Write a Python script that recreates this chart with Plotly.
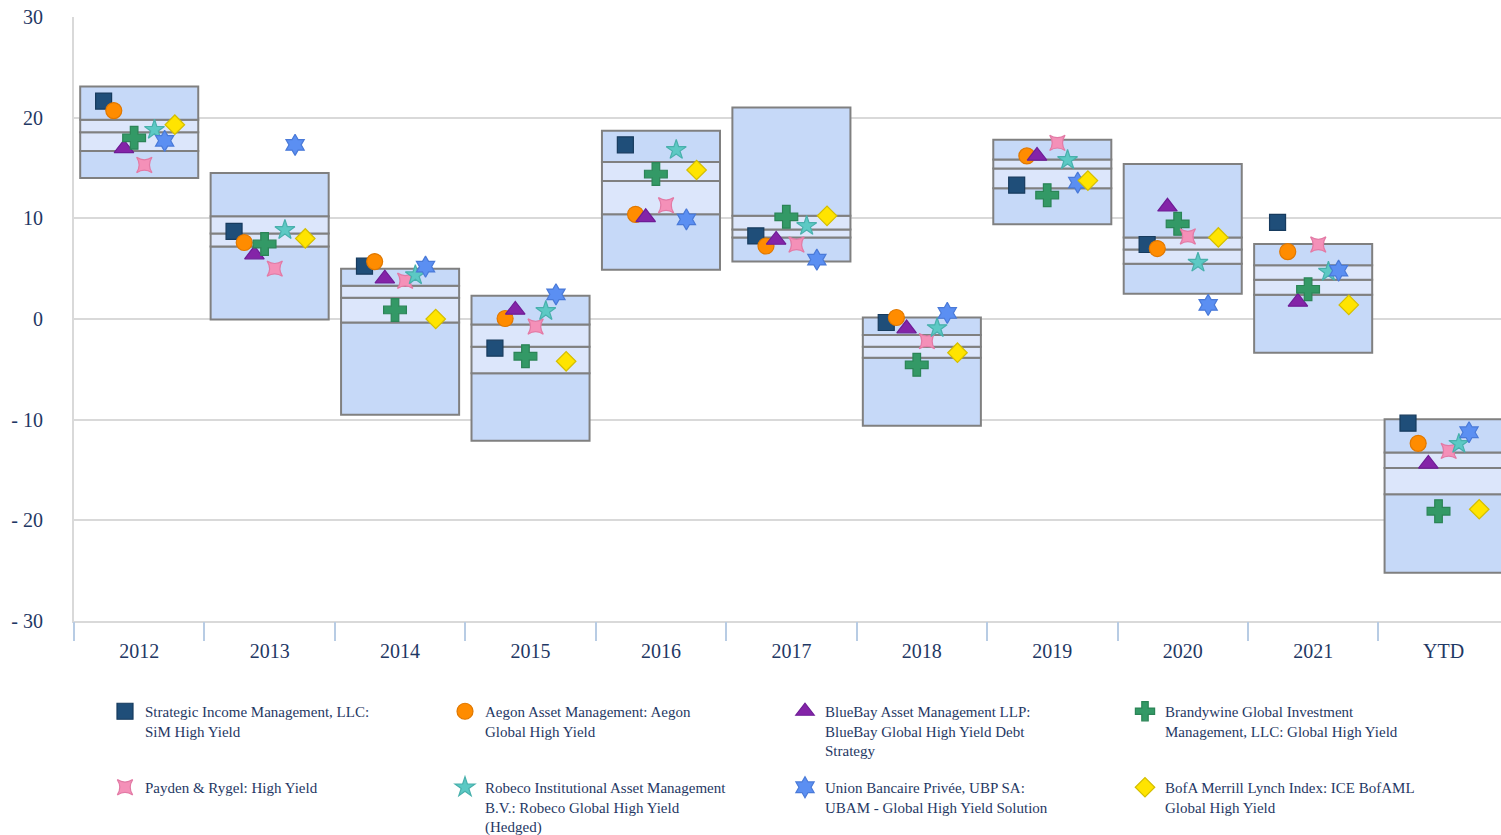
import plotly.graph_objects as go

years = ["2012", "2013", "2014", "2015", "2016", "2017", "2018", "2019", "2020", "2021", "YTD"]

box_max = [23.1, 14.5, 5.0, 2.3, 18.7, 21.0, 0.15, 17.8, 15.4, 7.45, -9.95]
box_q75 = [19.8, 10.2, 3.3, -0.55, 15.6, 10.25, -1.6, 15.85, 8.1, 5.35, -13.25]
box_med = [18.55, 8.5, 2.1, -2.75, 13.7, 8.9, -2.75, 14.95, 6.9, 3.9, -14.8]
box_q25 = [16.7, 7.2, -0.35, -5.4, 10.4, 8.1, -3.85, 13.0, 5.5, 2.4, -17.4]
box_min = [14.0, -0.05, -9.5, -12.1, 4.9, 5.7, -10.6, 9.4, 2.5, -3.35, -25.2]

sim = [21.65, 8.7, 5.25, -2.9, 17.3, 8.25, -0.35, 13.3, 7.4, 9.6, -10.35]
aegon = [20.7, 7.6, 5.7, 0.05, 10.4, 7.25, 0.15, 16.2, 7.0, 6.7, -12.35]
bluebay = [16.95, 6.4, 4.0, 0.9, 10.1, 7.85, -0.95, 16.2, 11.15, 1.7, -14.4]
brandywine = [18.0, 7.45, 0.9, -3.7, 14.4, 10.15, -4.55, 12.3, 9.45, 2.95, -19.1]
payden = [15.3, 5.0, 3.8, -0.75, 11.3, 7.4, -2.2, 17.5, 8.2, 7.4, -13.1]
robeco = [18.8, 8.85, 4.35, 0.8, 16.8, 9.25, -0.9, 15.8, 5.6, 4.7, -12.4]
ubam = [17.7, 17.3, 5.2, 2.45, 9.9, 5.9, 0.6, 13.55, 1.4, 4.8, -11.25]
bofa = [19.3, 8.0, 0.0, -4.2, 14.8, 10.25, -3.35, 13.75, 8.1, 1.4, -18.9]

series_names = [
    "Strategic Income Management, LLC:<br>SiM High Yield",
    "Aegon Asset Management: Aegon<br>Global High Yield",
    "BlueBay Asset Management LLP:<br>BlueBay Global High Yield Debt<br>Strategy",
    "Brandywine Global Investment<br>Management, LLC: Global High Yield",
    "Payden &amp; Rygel: High Yield",
    "Robeco Institutional Asset Management<br>B.V.: Robeco Global High Yield<br>(Hedged)",
    "Union Bancaire Privée, UBP SA:<br>UBAM - Global High Yield Solution",
    "BofA Merrill Lynch Index: ICE BofAML<br>Global High Yield",
]
series_values = [sim, aegon, bluebay, brandywine, payden, robeco, ubam, bofa]
symbols = ["square", "circle", "triangle-up", "cross", "star-square", "star", "hexagram", "diamond"]
sizes = [16, 16, 17, 19, 14, 15, 16, 15]
fills = ["#1F4E79", "#FF8C00", "#8424A8", "#339966", "#F490B8", "#5CC9C4", "#5B8FF2", "#FFE400"]
edges = ["#173B5E", "#E07800", "#6E1C96", "#2B8456", "#E27AA5", "#48B0AC", "#4A7AD8", "#D4BE00"]

OUTER = "#C6D9F8"
INNER = "#DCE6FB"
EDGE = "#808080"
TXT = "#1F3864"
FONT = "Liberation Serif"

idx = list(range(len(years)))
fig = go.Figure()

segments = [
    (box_min, box_q25, OUTER),
    (box_q25, box_med, INNER),
    (box_med, box_q75, INNER),
    (box_q75, box_max, OUTER),
]
for lo, hi, col in segments:
    fig.add_trace(go.Bar(
        x=idx, y=[h - l for l, h in zip(lo, hi)], base=lo, width=0.905,
        marker=dict(color=col, line=dict(color=EDGE, width=2)),
        showlegend=False, hoverinfo="skip",
    ))

step = 0.078
for k, (name, vals) in enumerate(zip(series_names, series_values)):
    off = (k - 3.5) * step
    fig.add_trace(go.Scatter(
        x=[i + off for i in idx], y=vals, mode="markers", name=name,
        marker=dict(symbol=symbols[k], size=sizes[k], color=fills[k],
                    line=dict(color=edges[k], width=1.2)),
        legend="legend" if k < 4 else "legend2",
    ))

xr = [-0.5, 10.44]
legend_common = dict(
    orientation="h", xref="container", yref="container", xanchor="left", yanchor="top",
    font=dict(family=FONT, size=15, color=TXT), entrywidth=295, entrywidthmode="pixels",
    valign="top", bgcolor="rgba(0,0,0,0)", tracegroupgap=0,
)
fig.update_layout(
    width=1501, height=835,
    margin=dict(l=74, r=0, t=17, b=214, autoexpand=False),
    paper_bgcolor="white", plot_bgcolor="white",
    barmode="overlay",
    font=dict(family=FONT, size=20, color=TXT),
    xaxis=dict(range=xr, tickmode="array", tickvals=idx, ticktext=years, ticks="",
               showgrid=False, zeroline=False, showline=True, linecolor="#D9D9D9", linewidth=2,
               ticklabelstandoff=11, tickfont=dict(family=FONT, size=20, color=TXT)),
    xaxis2=dict(overlaying="x", anchor="y", side="bottom", matches="x", range=xr,
                tickmode="array", tickvals=[i - 0.5 for i in idx] + [len(idx) - 0.5],
                showticklabels=False, ticks="outside", ticklen=19, tickwidth=2, tickcolor="#B8CCE4",
                showgrid=False, zeroline=False, showline=False),
    yaxis=dict(range=[-30, 30], tickmode="array", tickvals=[-30, -20, -10, 0, 10, 20, 30],
               ticktext=["- 30", "- 20", "- 10", "0", "10", "20", "30"],
               showgrid=True, gridcolor="#D9D9D9", gridwidth=2, zeroline=False,
               showline=True, linecolor="#D9D9D9", linewidth=2, ticks="",
               ticklabelstandoff=25, tickfont=dict(family=FONT, size=20, color=TXT)),
    legend=dict(x=105 / 1501, y=1 - 695 / 835, **legend_common),
    legend2=dict(x=105 / 1501, y=1 - 771 / 835, **legend_common),
    showlegend=True,
)

fig.add_trace(go.Scatter(x=[None], y=[None], xaxis="x2", showlegend=False, hoverinfo="skip"))

fig.write_html(
    "out.html",
    config={"displayModeBar": False},
    post_script="document.body.style.margin='0';document.body.style.overflow='hidden';",
)
